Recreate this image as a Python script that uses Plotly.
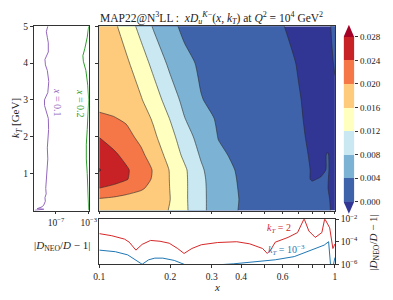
import plotly.graph_objects as go

# ---------------- data ----------------
X_NODES = [0.1, 0.115, 0.13, 0.15, 0.17, 0.2, 0.23, 0.27, 0.32, 0.4, 0.55, 0.7, 0.8, 0.87, 0.93, 0.97, 1.0]
KT_NODES = [0.0, 0.3, 0.6, 0.85, 1.1, 1.5, 2.0, 2.5, 3.0, 4.0, 5.0]
Z_KT_000 = [0.0185, 0.0182, 0.0178, 0.0173, 0.0167, 0.0159, 0.0128, 0.0090, 0.0058, 0.0037, 0.0022, 0.0010, 0.0005, 0.0003, 0.0001, -0.00005, -0.0003]
Z_KT_030 = [0.0196, 0.0192, 0.0187, 0.0180, 0.0172, 0.0160, 0.0127, 0.0090, 0.0058, 0.0038, 0.0022, 0.0010, 0.0005, 0.0003, 0.0001, -0.0001, -0.0003]
Z_KT_060 = [0.0239, 0.0228, 0.0217, 0.0205, 0.0188, 0.0159, 0.0127, 0.0090, 0.0057, 0.0037, 0.0021, 0.0009, 0.0004, 0.0002, 0.00003, -0.0002, -0.0003]
Z_KT_085 = [0.0272, 0.0257, 0.0243, 0.0219, 0.0195, 0.0158, 0.0127, 0.0089, 0.0056, 0.0036, 0.0020, 0.0006, -0.0001, 0.0001, 0.00005, -0.0002, -0.0003]
Z_KT_110 = [0.0282, 0.0262, 0.0245, 0.0221, 0.0197, 0.0157, 0.0126, 0.0086, 0.0053, 0.0035, 0.0019, 0.0006, -0.0001, -0.0003, 0.0001, -0.0002, -0.0003]
Z_KT_150 = [0.0265, 0.0247, 0.0230, 0.0208, 0.0183, 0.0145, 0.0112, 0.0076, 0.0045, 0.0033, 0.0018, 0.0005, -0.0002, -0.0004, 0.0001, -0.0003, -0.0003]
Z_KT_200 = [0.0239, 0.0224, 0.0211, 0.0191, 0.0167, 0.01325, 0.00985, 0.0064, 0.0039, 0.0030, 0.0016, 0.0003, -0.0003, -0.0005, -0.0005, -0.0003, -0.0002]
Z_KT_250 = [0.0205, 0.0202, 0.0195, 0.0178, 0.0155, 0.0118, 0.0081, 0.00525, 0.0036, 0.0027, 0.0014, 0.0002, -0.0004, -0.0006, -0.0005, -0.0003, -0.0002]
Z_KT_300 = [0.0190, 0.0183, 0.0174, 0.0163, 0.0140, 0.0100, 0.0069, 0.0041, 0.0034, 0.0025, 0.0012, 0.0001, -0.0004, -0.0006, -0.0005, -0.0003, -0.0002]
Z_KT_400 = [0.0188, 0.0177, 0.0166, 0.0140, 0.01086, 0.0071, 0.0047, 0.0036, 0.0028, 0.0019, 0.0008, -0.0001, -0.0005, -0.0006, -0.0004, -0.0001, 0.0001]
Z_KT_500 = [0.0183, 0.0167, 0.0144, 0.0107, 0.0076, 0.0047, 0.0034, 0.0026, 0.0019, 0.0012, 0.0003, -0.0004, -0.0006, -0.0006, -0.0003, 0.0001, 0.0002]
Z_GRID = [Z_KT_000, Z_KT_030, Z_KT_060, Z_KT_085, Z_KT_110, Z_KT_150,
          Z_KT_200, Z_KT_250, Z_KT_300, Z_KT_400, Z_KT_500]

LEVEL_START, LEVEL_END, LEVEL_STEP = 0.0, 0.028, 0.004
CB_TICKS = [0.000, 0.004, 0.008, 0.012, 0.016, 0.020, 0.024, 0.028]
CB_BIN_MID = [0.002, 0.006, 0.010, 0.014, 0.018, 0.022, 0.026]
COLORS = ["#313695", "#3f63ab", "#7cb3d4", "#c9e8f2", "#ffffbf",
          "#feca7c", "#f57647", "#c82227", "#a50026"]

# left panel: |D_NEO/D - 1| vs kT
KT_X01 = [0.005, 0.015, 0.025, 0.035, 0.05, 0.07, 0.1, 0.15, 0.25, 0.35, 0.45, 0.6, 0.8, 1.0, 1.2, 1.4,
          1.7, 2.0, 2.2, 2.5, 2.7, 2.85, 3.0, 3.2, 3.5, 3.8, 3.95, 4.1, 4.3, 4.55, 4.7, 4.85, 5.0]
ERR_X01 = [2.5e-10, 2.5e-9, 3.2e-10, 3.2e-9, 5.0e-10, 1.26e-9, 2.0e-9, 3.2e-9, 5.0e-9, 4.5e-9, 6.3e-9,
           5.6e-9, 6.6e-9, 7.6e-9, 8.7e-9, 1.0e-8, 8.7e-9, 1.15e-8, 1.26e-8, 1.15e-8, 6.6e-9, 4.0e-9,
           3.9e-9, 1.0e-8, 1.32e-8, 8.7e-9, 5.1e-9, 4.5e-9, 1.15e-8, 1.15e-8, 8.7e-9, 6.6e-9, 1.0e-8]
KT_X02 = [0.005, 0.3, 0.6, 1.0, 1.4, 1.8, 2.2, 2.6, 3.0, 3.4, 3.8, 4.05, 4.2, 4.4, 4.7, 5.0]
ERR_X02 = [1.0e-3, 9.3e-4, 8.7e-4, 6.6e-4, 5.1e-4, 5.1e-4, 6.6e-4, 8.7e-4, 1.0e-3, 7.6e-4, 4.5e-4,
           2.2e-4, 1.95e-4, 3.4e-4, 6.6e-4, 1.0e-3]

# bottom panel: |D_NEO/D - 1| vs x
X_KT2 = [0.1, 0.113, 0.128, 0.134, 0.143, 0.152, 0.165, 0.181, 0.198, 0.215, 0.229, 0.247, 0.271,
         0.318, 0.383, 0.435, 0.493, 0.516, 0.533, 0.558, 0.632, 0.694, 0.74, 0.775, 0.825, 0.88,
         0.905, 0.95, 0.98, 1.0]
ERR_KT2 = [5.2e-4, 3.4e-4, 1.7e-4, 9.1e-5, 1.8e-5, 5.8e-5, 1.3e-4, 1.1e-4, 7.4e-5, 2.5e-5, 9.1e-6,
           2.5e-5, 5.4e-5, 8.5e-5, 1.0e-4, 6.5e-5, 2.5e-5, 9.1e-6, 1.8e-5, 9.1e-5, 2.4e-4, 6.5e-4,
           1.1e-2, 8.9e-4, 2.4e-4, 6.5e-4, 1.1e-2, 1.7e-3, 2.5e-5, 6.3e-5]
X_KT1EM3 = [0.1, 0.117, 0.132, 0.143, 0.152, 0.162, 0.172, 0.186, 0.208, 0.232, 0.26, 0.3, 0.318,
            0.372, 0.449, 0.558, 0.672, 0.787, 0.85, 0.9, 0.94, 0.96, 0.98, 1.0]
ERR_KT1EM3 = [1.8e-5, 1.3e-5, 6.8e-6, 2.5e-6, 1.0e-6, 2.5e-6, 3.5e-6, 3.5e-6, 2.2e-6, 8.9e-7, 5e-7,
              6.3e-7, 8.9e-7, 1.1e-6, 1.7e-6, 2.5e-6, 4.8e-6, 1.8e-5, 3.4e-5, 5e-5, 1.0e-4, 5e-7,
              5e-7, 4e-6]

X_TICKS = [0.1, 0.2, 0.3, 0.4, 0.5, 0.6, 0.7, 0.8, 0.9, 1.0]
X_TICKTEXT = ["0.1", "0.2", "0.3", "0.4", "", "0.6", "", "", "", "1"]
KT_TICKS = [1, 2, 3, 4, 5]

# ---------------- figure ----------------
FONT = "Liberation Serif"
W, H = 393, 300
def px_x(p): return p / W
def px_y(p): return 1 - p / H

n = len(COLORS) - 1
cscale = [[i / n, c] for i, c in enumerate(COLORS)]

fig = go.Figure()

fig.add_trace(go.Contour(
    x=X_NODES, y=KT_NODES, z=Z_GRID,
    colorscale=cscale, showscale=False,
    contours=dict(start=LEVEL_START, end=LEVEL_END, size=LEVEL_STEP,
                  coloring="fill", showlines=True),
    line=dict(color="#2a2a2a", width=0.6, smoothing=0.6),
    xaxis="x", yaxis="y", hoverinfo="skip"))

fig.add_trace(go.Scatter(x=ERR_X01, y=KT_X01, mode="lines",
                         line=dict(color="#9467bd", width=1), xaxis="x2", yaxis="y2"))
fig.add_trace(go.Scatter(x=ERR_X02, y=KT_X02, mode="lines",
                         line=dict(color="#2ca02c", width=1), xaxis="x2", yaxis="y2"))

fig.add_trace(go.Scatter(x=X_KT2, y=ERR_KT2, mode="lines",
                         line=dict(color="#d62728", width=1), xaxis="x3", yaxis="y3"))
fig.add_trace(go.Scatter(x=X_KT1EM3, y=ERR_KT1EM3, mode="lines",
                         line=dict(color="#1f77b4", width=1), xaxis="x3", yaxis="y3"))

# colour bar built from the level bins
fig.add_trace(go.Heatmap(x=[0, 1], y=CB_TICKS, z=[[v] for v in CB_BIN_MID],
                         colorscale=cscale, zmin=LEVEL_START - LEVEL_STEP / 2,
                         zmax=LEVEL_END + LEVEL_STEP / 2, showscale=False,
                         xaxis="x4", yaxis="y4", hoverinfo="skip"))
tri_h = LEVEL_STEP * 0.52
fig.add_trace(go.Scatter(x=[0, 1, 0.5, 0], y=[CB_TICKS[-1], CB_TICKS[-1], CB_TICKS[-1] + tri_h, CB_TICKS[-1]],
                         fill="toself", fillcolor=COLORS[-1], mode="lines", line=dict(width=0),
                         xaxis="x4", yaxis="y4", hoverinfo="skip"))
fig.add_trace(go.Scatter(x=[0, 1, 0.5, 0], y=[CB_TICKS[0], CB_TICKS[0], CB_TICKS[0] - tri_h, CB_TICKS[0]],
                         fill="toself", fillcolor=COLORS[0], mode="lines", line=dict(width=0),
                         xaxis="x4", yaxis="y4", hoverinfo="skip"))

axcommon = dict(showline=True, linecolor="#333", linewidth=0.8, mirror=True,
                ticks="outside", ticklen=3, tickwidth=0.8, tickcolor="#333",
                showgrid=False, zeroline=False,
                tickfont=dict(family=FONT, size=9.5, color="#222"))

main_y = [px_y(212), px_y(20)]
fig.update_layout(
    width=W, height=H, margin=dict(l=0, r=0, t=0, b=0), autosize=False,
    paper_bgcolor="white", plot_bgcolor="white", showlegend=False,
    xaxis=dict(domain=[px_x(97), px_x(342)], type="log", range=[-1, 0], anchor="y",
               tickvals=X_TICKS, showticklabels=False, **axcommon),
    yaxis=dict(domain=main_y, range=[0, 5], anchor="x", tickvals=KT_TICKS,
               showticklabels=False, **axcommon),
    xaxis2=dict(domain=[px_x(29), px_x(86)], type="log", range=[-9.7, -3], anchor="y2",
                tickvals=[1e-7, 1e-3], ticktext=["10<sup>−7</sup>", "10<sup>−3</sup>"], **axcommon),
    yaxis2=dict(domain=main_y, range=[0, 5], anchor="x2", tickvals=KT_TICKS, **axcommon),
    xaxis3=dict(domain=[px_x(97), px_x(342)], type="log", range=[-1, 0], anchor="y3",
                tickvals=X_TICKS, ticktext=X_TICKTEXT, **axcommon),
    yaxis3=dict(domain=[px_y(268), px_y(221)], type="log", range=[-6, -2], anchor="x3", side="right",
                tickvals=[1e-6, 1e-4, 1e-2],
                ticktext=["10<sup>−6</sup>", "10<sup>−4</sup>", "10<sup>−2</sup>"], **axcommon),
    xaxis4=dict(domain=[px_x(351), px_x(362)], range=[0, 1], anchor="y4", visible=False),
    yaxis4=dict(domain=[px_y(215.6), px_y(18.3)], range=[-0.0021, 0.0301], anchor="x4", side="right",
                tickvals=CB_TICKS, tickformat=".3f", ticks="outside", ticklen=3, tickwidth=0.8,
                tickcolor="#333", showline=False, showgrid=False, zeroline=False,
                tickfont=dict(family=FONT, size=9, color="#222")),
)

def note(xp, yp, text, size=11, color="#222", angle=0):
    fig.add_annotation(x=px_x(xp), y=px_y(yp), xref="paper", yref="paper", showarrow=False,
                       xanchor="center", yanchor="middle", textangle=angle,
                       font=dict(family=FONT, size=size, color=color), text=text)

note(214, 11, "MAP22@N<sup>3</sup>LL :  <i>xD</i><sub><i>u</i></sub><sup><i>K</i>−</sup>(<i>x</i>, <i>k</i><sub><i>T</i></sub>) at <i>Q</i><sup>2</sup> = 10<sup>4</sup> GeV<sup>2</sup>", size=11.5)
note(11, 116, "<i>k</i><sub><i>T</i></sub> [GeV]", angle=-90)
note(58, 249, "|<i>D</i><sub>NEO</sub>/<i>D</i> − 1|")
note(383, 245, "|<i>D</i><sub>NEO</sub>/<i>D</i> − 1|", angle=-90)
note(219, 292, "<i>x</i>")
note(53, 100, "<i>x</i> = 0.1", size=10, color="#9467bd", angle=90)
note(77, 100, "<i>x</i> = 0.2", size=10, color="#2ca02c", angle=90)
note(284, 231, "<i>k</i><sub><i>T</i></sub> = 2", size=10, color="#d62728")
note(292, 253, "<i>k</i><sub><i>T</i></sub> = 10<sup>−3</sup>", size=10, color="#1f77b4")

fig.write_html("out.html", config={"displayModeBar": False},
               post_script="document.body.style.margin='0';document.body.style.padding='0';")
